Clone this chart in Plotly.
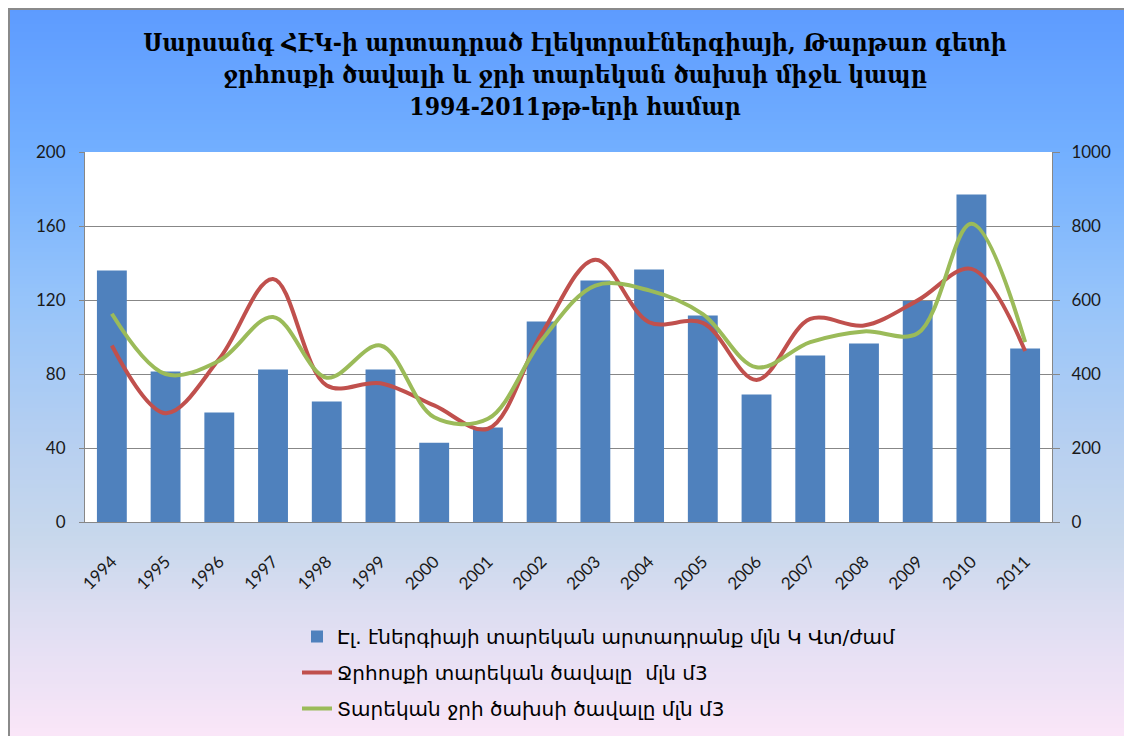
import plotly.graph_objects as go

years = ["1994", "1995", "1996", "1997", "1998", "1999", "2000", "2001", "2002",
         "2003", "2004", "2005", "2006", "2007", "2008", "2009", "2010", "2011"]
energy = [136, 81.4, 59.2, 82.4, 65.1, 82.4, 42.8, 51.1, 108.4,
          130.5, 136.5, 111.6, 68.9, 90, 96.5, 119.4, 177, 93.8]
inflow = [477, 294, 441, 657, 369, 375, 315, 252, 509,
          709, 540, 538, 384, 549, 531, 599, 684, 462]
outflow = [563, 400, 436, 554, 390, 477, 283, 279, 491,
           639, 626, 562, 418, 486, 515, 510, 806, 486]

title_lines = ["Սարսանգ ՀԷԿ-ի արտադրած էլեկտրաէներգիայի, Թարթառ գետի",
               "ջրհոսքի ծավալի և ջրի տարեկան ծախսի միջև կապը",
               "1994-2011թթ-երի համար"]
name_bar = "Էլ. էներգիայի տարեկան արտադրանք մլն Կ Վտ/ժամ"
name_red = "Ջրհոսքի տարեկան ծավալը  մլն մ3"
name_green = "Տարեկան ջրի ծախսի ծավալը մլն մ3"

# page offset (browser body margin)
OX, OY = 8, 8
PW, PH = 1132, 736
W, H = PW - OX, PH - OY
# plot area in page pixels
L, R, T, B = 85, 1052, 152, 522


def px(x):
    return (x - L) / (R - L)


def py(y):
    return (B - y) / (B - T)


stops = [(8, (93, 155, 255)), (150, (114, 175, 255)), (300, (150, 196, 250)),
         (450, (184, 208, 240)), (540, (200, 216, 236)), (620, (223, 222, 242)),
         (736, (250, 230, 248))]


def col(y):
    for (y0, c0), (y1, c1) in zip(stops[:-1], stops[1:]):
        if y0 <= y <= y1:
            t = (y - y0) / (y1 - y0)
            return "rgb(%d,%d,%d)" % tuple(round(a + (b - a) * t) for a, b in zip(c0, c1))
    return "rgb(%d,%d,%d)" % stops[-1][1]


shapes = []
y = OY
step = 4
while y < PH:
    y2 = min(y + step, PH)
    shapes.append(dict(type="rect", xref="paper", yref="paper", layer="below",
                       x0=px(OX), x1=px(PW), y0=py(y2 + 0.5), y1=py(y),
                       fillcolor=col(y + step / 2), line=dict(width=0)))
    y = y2
# white plot area
shapes.append(dict(type="rect", xref="paper", yref="paper", layer="below",
                   x0=0, x1=1, y0=0, y1=1, fillcolor="white", line=dict(width=0)))
# outer border
shapes.append(dict(type="path", xref="paper", yref="paper", layer="above",
                   path="M %f %f L %f %f L %f %f" % (px(OX + 1), py(PH), px(OX + 1), py(OY + 1),
                                                     px(PW), py(OY + 1)),
                   line=dict(color="#8a8a8a", width=2)))

fig = go.Figure()
fig.add_trace(go.Bar(x=years, y=energy, name=name_bar, marker=dict(color="#4f81bd", line=dict(width=0)),
                     legendgroup="a"))
fig.add_trace(go.Scatter(x=years, y=inflow, name=name_red, yaxis="y2", mode="lines",
                         line=dict(color="#c0504d", width=4, shape="spline", smoothing=1),
                         legendgroup="b"))
fig.add_trace(go.Scatter(x=years, y=outflow, name=name_green, yaxis="y2", mode="lines",
                         line=dict(color="#9bbb59", width=4, shape="spline", smoothing=1),
                         legendgroup="c"))

tick_font = dict(family="Lato", size=17, color="#1a1a1a")
fig.update_layout(
    width=W, height=H,
    margin=dict(l=L - OX, r=PW - R, t=T - OY, b=PH - B, autoexpand=False),
    paper_bgcolor="white", plot_bgcolor="white",
    shapes=shapes,
    bargap=0.444,
    title=dict(text="<br>".join(title_lines), x=(575 - OX) / W, xanchor="center",
               y=1 - 43 / H, yanchor="top",
               font=dict(family="DejaVu Serif Condensed", size=24.5, color="black", weight="bold")),
    xaxis=dict(type="category", tickangle=-45, tickfont=tick_font, showgrid=False,
               showline=True, linecolor="#878787", linewidth=1, ticks="", ticklabelstandoff=22),
    yaxis=dict(range=[0, 200], dtick=40, tickfont=tick_font, showgrid=True, gridcolor="#878787",
               gridwidth=1, showline=True, linecolor="#878787", ticks="outside", ticklen=5,
               tickcolor="#878787", zeroline=False, ticklabelstandoff=10),
    yaxis2=dict(range=[0, 1000], dtick=200, tickfont=tick_font, overlaying="y", side="right",
                showgrid=False, showline=True, linecolor="#878787", ticks="outside", ticklen=7,
                tickcolor="#878787", zeroline=False, ticklabelstandoff=8),
    showlegend=True,
    legend=dict(x=px(297), y=py(617), xanchor="left", yanchor="top", bgcolor="rgba(0,0,0,0)",
                font=dict(family="DejaVu Sans", size=20, color="black"),
                tracegroupgap=7, traceorder="grouped"),
)

fig.write_html("out.html")
